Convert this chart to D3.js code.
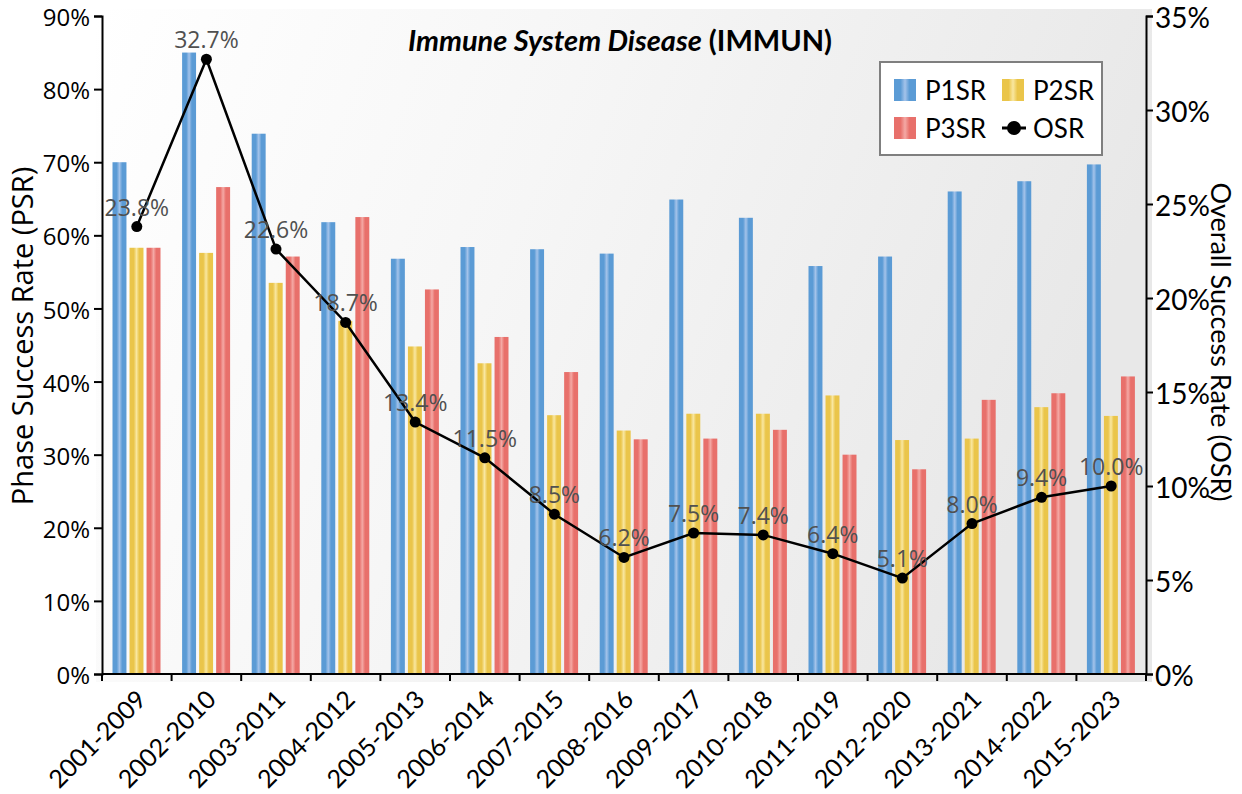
<!DOCTYPE html>
<html lang="en">
<head>
<meta charset="utf-8">
<title>IMMUN success rates</title>
<script src="https://cdn.jsdelivr.net/npm/d3@7"></script>
<style>
  body { margin: 0; background: #fff; }
  .tl { font-family: "Open Sans", sans-serif; font-size: 24px; fill: #000; }
  .tr { font-family: Lato, sans-serif; font-size: 28px; fill: #000; }
  .cat { font-family: Lato, sans-serif; font-size: 25px; fill: #000; }
  .lab { font-family: "Open Sans", sans-serif; font-size: 23px; fill: #505050; }
</style>
</head>
<body>
<svg width="1242" height="794" id="chart"></svg>
<script>
var categories = ["2001-2009","2002-2010","2003-2011","2004-2012","2005-2013","2006-2014","2007-2015",
  "2008-2016","2009-2017","2010-2018","2011-2019","2012-2020","2013-2021","2014-2022","2015-2023"];
var p1sr = [70.0, 85.0, 73.9, 61.8, 56.8, 58.4, 58.1, 57.5, 64.9, 62.4, 55.8, 57.1, 66.0, 67.4, 69.7];
var p2sr = [58.3, 57.6, 53.5, 48.3, 44.8, 42.5, 35.4, 33.3, 35.6, 35.6, 38.1, 32.0, 32.2, 36.5, 35.3];
var p3sr = [58.3, 66.6, 57.1, 62.5, 52.6, 46.1, 41.3, 32.1, 32.2, 33.4, 30.0, 28.0, 37.5, 38.4, 40.7];
var osr  = [23.8, 32.7, 22.6, 18.7, 13.4, 11.5, 8.5, 6.2, 7.5, 7.4, 6.4, 5.1, 8.0, 9.4, 10.0];
var seriesNames = ["P1SR", "P2SR", "P3SR"];
var leftTicks = [0, 10, 20, 30, 40, 50, 60, 70, 80, 90];
var rightTicks = [0, 5, 10, 15, 20, 25, 30, 35];

var svg = d3.select("svg#chart");
var pLeft = 102, pRight = 1146, pTop = 16, pBottom = 674;

var x = d3.scaleBand().domain(categories).range([pLeft, pRight]);
var xs = d3.scaleBand().domain(seriesNames).range([10.5, 58.5]).paddingInner(0.18);
var y = d3.scaleLinear().domain([0, 90]).range([pBottom, pTop]);
var y2 = d3.scaleLinear().domain([0, 35]).range([pBottom, pTop]);

var colors = {
  P1SR: ["#5b9bd5", "#a4c3ea"],
  P2SR: ["#eac54a", "#f9e7a0"],
  P3SR: ["#e8706b", "#f4a9a5"]
};

var defs = svg.append("defs");
var bg = defs.append("linearGradient").attr("id", "bg")
  .attr("x1", 0).attr("y1", 0).attr("x2", 1).attr("y2", 0.25);
bg.append("stop").attr("offset", "0%").attr("stop-color", "#ffffff");
bg.append("stop").attr("offset", "45%").attr("stop-color", "#f6f6f6");
bg.append("stop").attr("offset", "100%").attr("stop-color", "#e8e8e8");

seriesNames.forEach(function(s) {
  var g = defs.append("linearGradient").attr("id", "g" + s)
    .attr("x1", 0).attr("y1", 0).attr("x2", 1).attr("y2", 0);
  [[0, 0], [0.3, 0], [0.5, 1], [0.7, 0], [1, 0]].forEach(function(st) {
    g.append("stop").attr("offset", st[0]).attr("stop-color", colors[s][st[1]]);
  });
});

// plot background
svg.append("rect").attr("x", 96).attr("y", 9).attr("width", 1056).attr("height", 673)
  .attr("fill", "url(#bg)");

// bars
var rows = categories.map(function(c, i) {
  return { cat: c, vals: [["P1SR", p1sr[i]], ["P2SR", p2sr[i]], ["P3SR", p3sr[i]]] };
});
var grp = svg.append("g").selectAll("g").data(rows).enter().append("g")
  .attr("transform", function(d) { return "translate(" + x(d.cat) + ",0)"; });
grp.selectAll("rect").data(function(d) { return d.vals; }).enter().append("rect")
  .attr("x", function(d) { return xs(d[0]); })
  .attr("width", xs.bandwidth())
  .attr("y", function(d) { return y(d[1]); })
  .attr("height", function(d) { return pBottom - y(d[1]); })
  .attr("fill", function(d) { return "url(#g" + d[0] + ")"; });

// OSR line
var cx = function(i) { return x(categories[i]) + x.bandwidth() / 2; };
var line = d3.line().x(function(d, i) { return cx(i); }).y(function(d) { return y2(d); });
svg.append("path").datum(osr).attr("d", line)
  .attr("fill", "none").attr("stroke", "#000").attr("stroke-width", 2.5);
svg.append("g").selectAll("circle").data(osr).enter().append("circle")
  .attr("cx", function(d, i) { return cx(i); })
  .attr("cy", function(d) { return y2(d); })
  .attr("r", 5.5).attr("fill", "#000");
svg.append("g").selectAll("text").data(osr).enter().append("text")
  .attr("class", "lab").attr("text-anchor", "middle")
  .attr("x", function(d, i) { return cx(i); })
  .attr("y", function(d) { return y2(d) - 11; })
  .text(function(d) { return d.toFixed(1) + "%"; });

// axes
var axL = svg.append("g").attr("transform", "translate(" + pLeft + ",0)")
  .call(d3.axisLeft(y).tickValues(leftTicks).tickSize(8).tickPadding(4)
    .tickFormat(function(d) { return d + "%"; }));
axL.selectAll("text").attr("class", "tl").attr("dy", "0.4em");
var axR = svg.append("g").attr("transform", "translate(" + pRight + ",0)")
  .call(d3.axisRight(y2).tickValues(rightTicks).tickSize(7).tickPadding(2)
    .tickFormat(function(d) { return d + "%"; }));
axR.selectAll("text").attr("class", "tr").attr("dy", "0.4em");
var axB = svg.append("g").attr("transform", "translate(0," + pBottom + ")")
  .call(d3.axisBottom(x).tickSize(0).tickFormat(""));
axB.selectAll(".tick").remove();
axB.selectAll("line.sep").data(d3.range(categories.length + 1)).enter().append("line")
  .attr("x1", function(i) { return pLeft + i * x.step(); })
  .attr("x2", function(i) { return pLeft + i * x.step(); })
  .attr("y1", 0).attr("y2", 7).attr("stroke", "#000").attr("stroke-width", 2);
[axL, axR, axB].forEach(function(a) {
  a.select(".domain").attr("stroke-width", 2).attr("stroke", "#000");
  a.selectAll(".tick line").attr("stroke-width", 2);
});
axB.select(".domain").attr("d", "M" + pLeft + ",0H" + pRight);

svg.append("g").selectAll("text").data(categories).enter().append("text")
  .attr("class", "cat").attr("text-anchor", "end")
  .attr("transform", function(d) {
    return "translate(" + (x(d) + x.bandwidth() / 2 + 11) + ",701) rotate(-45)";
  })
  .text(function(d) { return d; });

// axis titles
svg.append("text").attr("transform", "translate(33,336) rotate(-90)")
  .attr("text-anchor", "middle")
  .style("font-family", "'Open Sans', sans-serif").style("font-size", "29px")
  .text("Phase Success Rate (PSR)");
svg.append("text").attr("transform", "translate(1211,342) rotate(90)")
  .attr("text-anchor", "middle")
  .style("font-family", "Lato, sans-serif").style("font-size", "27px")
  .text("Overall Success Rate (OSR)");

// title
var t = svg.append("text").attr("x", 620).attr("y", 51).attr("text-anchor", "middle")
  .style("font-family", "Lato, sans-serif").style("font-size", "29px").style("font-weight", "bold");
t.append("tspan").style("font-style", "italic").text("Immune System Disease");
t.append("tspan").text(" (IMMUN)");

// legend
var lg = svg.append("g").attr("transform", "translate(880,62)");
lg.append("rect").attr("width", 222).attr("height", 93)
  .attr("fill", "#fff").attr("stroke", "#7f7f7f").attr("stroke-width", 2);
var legendItems = [
  { name: "P1SR", col: 0, row: 0 }, { name: "P2SR", col: 1, row: 0 },
  { name: "P3SR", col: 0, row: 1 }, { name: "OSR", col: 1, row: 1 }
];
legendItems.forEach(function(it) {
  var gx = 14 + it.col * 108, gy = 17 + it.row * 38;
  if (it.name === "OSR") {
    lg.append("line").attr("x1", gx).attr("x2", gx + 24).attr("y1", gy + 11).attr("y2", gy + 11)
      .attr("stroke", "#000").attr("stroke-width", 3);
    lg.append("circle").attr("cx", gx + 12).attr("cy", gy + 11).attr("r", 7).attr("fill", "#000");
  } else {
    lg.append("rect").attr("x", gx).attr("y", gy).attr("width", 22).attr("height", 22)
      .attr("fill", "url(#g" + it.name + ")");
  }
  lg.append("text").attr("x", gx + 31).attr("y", gy + 21)
    .style("font-family", "Lato, sans-serif").style("font-size", "26px")
    .text(it.name);
});
</script>
</body>
</html>
